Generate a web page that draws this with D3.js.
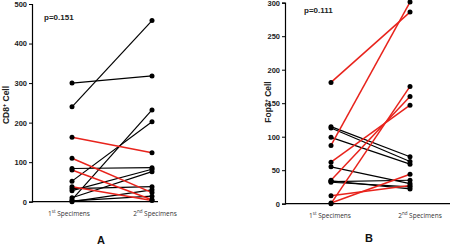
<!DOCTYPE html>
<html>
<head>
<meta charset="utf-8">
<script src="https://cdn.jsdelivr.net/npm/d3@7"></script>
<style>
  body { margin: 0; background: #fff; }
  svg { display: block; }
</style>
</head>
<body>
<div id="chart"></div>
<script>
// paired values (1st specimen, 2nd specimen, line colour group)
const categories = ["1st Specimens", "2nd Specimens"];

const cd8First  = [300, 240, 163, 110, 84, 80, 52, 38, 33, 28, 10, 5, 2, 0];
const cd8Second = [318, 458, 124, 23, 86, 5, 202, 3, 38, 82, 76, 232, 14, 30];
const cd8Group  = ["k", "k", "r", "r", "k", "r", "k", "r", "k", "k", "k", "k", "k", "k"];
const cd8Ticks  = [0, 100, 200, 300, 400, 500];

const fopFirst  = [181, 87, 62, 35, 0, 12, 1, 115, 113, 99, 55, 33, 32, 34];
const fopSecond = [286, 301, 147, 160, 175, 27, 44, 70, 63, 59, 30, 35, 25, 22];
const fopGroup  = ["r", "r", "r", "r", "r", "r", "r", "k", "k", "k", "k", "k", "k", "k"];
const fopTicks  = [0, 50, 100, 150, 200, 250, 300];

const colors = {k: "#000000", r: "#e8231c"};

const svg = d3.select("#chart").append("svg")
    .attr("width", 450)
    .attr("height", 249);

function panel(opt)
{
  const g = svg.append("g");

  const y = d3.scaleLinear()
      .domain([0, opt.max])
      .range([opt.y0, opt.y1]);

  const x = d3.scalePoint()
      .domain(categories)
      .range([opt.x1, opt.x2]);

  // y axis
  g.append("g")
      .attr("transform", `translate(${opt.axisX},0)`)
      .call(d3.axisLeft(y).tickValues(opt.ticks).tickSize(3).tickPadding(2))
      .call(g => g.select(".domain").attr("stroke-width", 1.2))
      .call(g => g.selectAll(".tick text")
          .attr("font-family", "Liberation Sans, Arial, sans-serif")
          .attr("font-weight", "bold")
          .attr("font-size", 7.5)
          .attr("fill", "#222"));

  // x axis line
  g.append("line")
      .attr("x1", opt.axisX)
      .attr("x2", opt.axisEnd)
      .attr("y1", opt.y0)
      .attr("y2", opt.y0)
      .attr("stroke", "#000")
      .attr("stroke-width", 1.2);

  // category labels with superscripts
  const lab = g.selectAll(".xlab")
    .data(categories)
    .join("text")
      .attr("x", (d, i) => x(d) + opt.labShift[i])
      .attr("y", opt.y0 + 14)
      .attr("text-anchor", "middle")
      .attr("font-family", "Open Sans, sans-serif")
      .attr("font-size", 6.5)
      .attr("fill", "#333");
  lab.append("tspan").text(d => d.slice(0, 1));
  lab.append("tspan").attr("dy", -2.5).attr("font-size", 4.5).text(d => d.slice(1, 3));
  lab.append("tspan").attr("dy", 2.5).text(d => d.slice(3));

  // y title
  const t = g.append("text")
      .attr("transform", `translate(${opt.titleX},${opt.titleY}) rotate(-90)`)
      .attr("text-anchor", "middle")
      .attr("font-family", "Liberation Sans, Arial, sans-serif")
      .attr("font-weight", "bold")
      .attr("font-size", 8.5)
      .attr("fill", "#222");
  t.append("tspan").text(opt.title[0]);
  t.append("tspan").attr("dy", -3).attr("font-size", 5.5).text("+");
  t.append("tspan").attr("dy", 3).text(" " + opt.title[1]);

  // p value
  g.append("text")
      .attr("x", opt.pX)
      .attr("y", opt.pY)
      .attr("font-family", "Liberation Sans, Arial, sans-serif")
      .attr("font-weight", "bold")
      .attr("font-size", 8)
      .attr("fill", "#222")
      .text(opt.p);

  // panel letter
  g.append("text")
      .attr("x", opt.letterX)
      .attr("y", opt.letterY)
      .attr("text-anchor", "middle")
      .attr("font-family", "Liberation Sans, Arial, sans-serif")
      .attr("font-weight", "bold")
      .attr("font-size", 11)
      .attr("fill", "#111")
      .text(opt.letter);

  const pairs = opt.first.map((d, i) => ({a: d, b: opt.second[i], c: opt.group[i]}));
  // draw black first, red on top
  pairs.sort((p, q) => d3.ascending(p.c === "r", q.c === "r"));

  g.append("g")
    .selectAll("line")
    .data(pairs)
    .join("line")
      .attr("x1", x(categories[0]))
      .attr("x2", x(categories[1]))
      .attr("y1", d => y(d.a))
      .attr("y2", d => y(d.b))
      .attr("stroke", d => colors[d.c])
      .attr("stroke-width", d => d.c === "r" ? 1.5 : 1.2);

  const pts = [];
  pairs.forEach(d => { pts.push({cat: categories[0], v: d.a}); pts.push({cat: categories[1], v: d.b}); });

  g.append("g")
    .selectAll("circle")
    .data(pts)
    .join("circle")
      .attr("cx", d => x(d.cat))
      .attr("cy", d => y(d.v))
      .attr("r", 2.5)
      .attr("fill", "#000");
}

panel({
  first: cd8First, second: cd8Second, group: cd8Group, ticks: cd8Ticks, max: 500,
  y0: 201.7, y1: 4, axisX: 32, axisEnd: 158, x1: 72, x2: 152,
  labShift: [-3, 3],
  title: ["CD8", "Cell"], titleX: 9, titleY: 105,
  p: "p=0.151", pX: 44, pY: 20,
  letter: "A", letterX: 101, letterY: 244
});

panel({
  first: fopFirst, second: fopSecond, group: fopGroup, ticks: fopTicks, max: 300,
  y0: 203.7, y1: 2.7, axisX: 285, axisEnd: 450, x1: 331, x2: 410,
  labShift: [-1, 10],
  title: ["Fop3", "Cell"], titleX: 271, titleY: 102,
  p: "p=0.111", pX: 304, pY: 13,
  letter: "B", letterX: 369, letterY: 242
});
</script>
</body>
</html>
